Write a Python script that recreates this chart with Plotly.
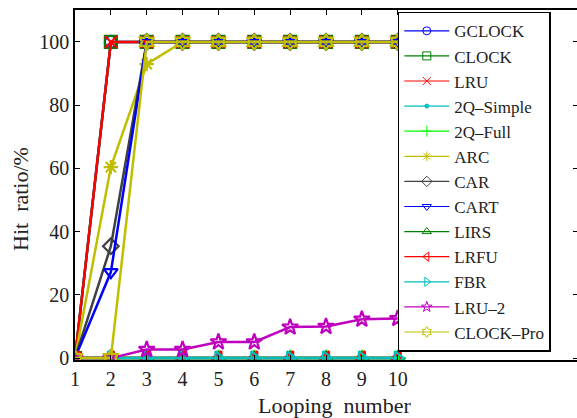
import plotly.graph_objects as go

looping = [1, 2, 3, 4, 5, 6, 7, 8, 9, 10]
x_ticks = [1, 2, 3, 4, 5, 6, 7, 8, 9, 10]
y_ticks = [0, 20, 40, 60, 80, 100]

gclock = [0, 100, 100, 100, 100, 100, 100, 100, 100, 100]
clock = [0, 100, 100, 100, 100, 100, 100, 100, 100, 100]
lru = [0, 100, 100, 100, 100, 100, 100, 100, 100, 100]
q2_simple = [0, 0, 0, 0, 0, 0, 0, 0, 0, 0]
q2_full = [0, 0, 0, 0, 0, 0, 0, 0, 0, 0]
arc = [0, 60.4, 93, 100, 100, 100, 100, 100, 100, 100]
car = [0, 35.4, 100, 100, 100, 100, 100, 100, 100, 100]
cart = [0, 27.2, 100, 100, 100, 100, 100, 100, 100, 100]
lirs = [0, 0, 0, 0, 0, 0, 0, 0, 0, 0]
lrfu = [0, 0, 0, 0, 0, 0, 0, 0, 0, 0]
fbr = [0, 0, 0, 0, 0, 0, 0, 0, 0, 0]
lru_2 = [0, 0, 2.7, 2.7, 5.1, 5.1, 9.8, 10, 12.3, 12.5]
clock_pro = [0, 0, 100, 100, 100, 100, 100, 100, 100, 100]

series = [
    ("GCLOCK", gclock, "#0000ff", "circle-open"),
    ("CLOCK", clock, "#008000", "square-open"),
    ("LRU", lru, "#ff0000", "x-thin-open"),
    ("2Q–Simple", q2_simple, "#00bfbf", "circle"),
    ("2Q–Full", q2_full, "#00ff00", "cross-thin-open"),
    ("ARC", arc, "#bfbf00", "asterisk-open"),
    ("CAR", car, "#404040", "diamond-open"),
    ("CART", cart, "#0000ff", "triangle-down-open"),
    ("LIRS", lirs, "#008000", "triangle-up-open"),
    ("LRFU", lrfu, "#ff0000", "triangle-left-open"),
    ("FBR", fbr, "#00bfbf", "triangle-right-open"),
    ("LRU–2", lru_2, "#bf00bf", "star-open"),
    ("CLOCK–Pro", clock_pro, "#bfbf00", "hexagram-open"),
]

FONT = "'Liberation Serif', 'DejaVu Serif', serif"
fig = go.Figure()

for name, vals, color, sym in series:
    size = 6 if sym == "circle" else 12
    fig.add_trace(go.Scatter(
        x=looping, y=vals, mode="lines+markers", name=name, showlegend=False,
        line=dict(color=color, width=2.5),
        marker=dict(symbol=sym, size=size, color=color, line=dict(color=color, width=2.2)),
    ))

# thin legend entries (no points in plot area)
for name, vals, color, sym in series:
    size = 4 if sym == "circle" else 8
    fig.add_trace(go.Scatter(
        x=[None], y=[None], mode="lines+markers", name=name, showlegend=True,
        line=dict(color=color, width=1.2),
        marker=dict(symbol=sym, size=size, color=color, line=dict(color=color, width=1)),
    ))

fig.add_trace(go.Scatter(x=[None], y=[None], yaxis="y2", showlegend=False))

fig.update_layout(
    width=577, height=418,
    margin=dict(l=75, r=0, t=10, b=58),
    paper_bgcolor="white", plot_bgcolor="white",
    font=dict(family=FONT, size=20, color="#222"),
    xaxis=dict(
        range=[1, 15], tickvals=x_ticks, ticks="inside", ticklen=5, tickwidth=1,
        tickcolor="black", showline=True, linecolor="black", linewidth=1.5,
        mirror="ticks", showgrid=False, zeroline=False,
        tickfont=dict(family=FONT, size=20, color="#222"),
    ),
    yaxis=dict(
        range=[-0.6, 110.1], tickvals=y_ticks, ticks="inside", ticklen=5, tickwidth=1,
        tickcolor="black", showline=True, linecolor="black", linewidth=1.5,
        showgrid=False, zeroline=False,
        tickfont=dict(family=FONT, size=20, color="#222"),
    ),
    yaxis2=dict(
        overlaying="y", side="right", matches="y", tickvals=y_ticks, ticks="inside",
        ticklen=4, tickcolor="black", showticklabels=False, showline=False,
        showgrid=False, zeroline=False,
    ),
    legend=dict(
        x=0.643, y=0.995, xanchor="left", yanchor="top",
        bgcolor="white", bordercolor="black", borderwidth=1.5,
        font=dict(family=FONT, size=17, color="#222"),
        itemwidth=45, tracegroupgap=0,
    ),
    annotations=[
        dict(text="Hit  ratio/%", xref="paper", yref="paper", x=-0.1096, y=0.46,
             textangle=-90, showarrow=False, font=dict(family=FONT, size=22, color="#222"),
             xanchor="center", yanchor="middle"),
        dict(text="Looping  number", xref="paper", yref="paper", x=0.516, y=-0.129,
             showarrow=False, font=dict(family=FONT, size=22, color="#222"),
             xanchor="center", yanchor="middle"),
    ],
)

fig.write_html("out.html")
